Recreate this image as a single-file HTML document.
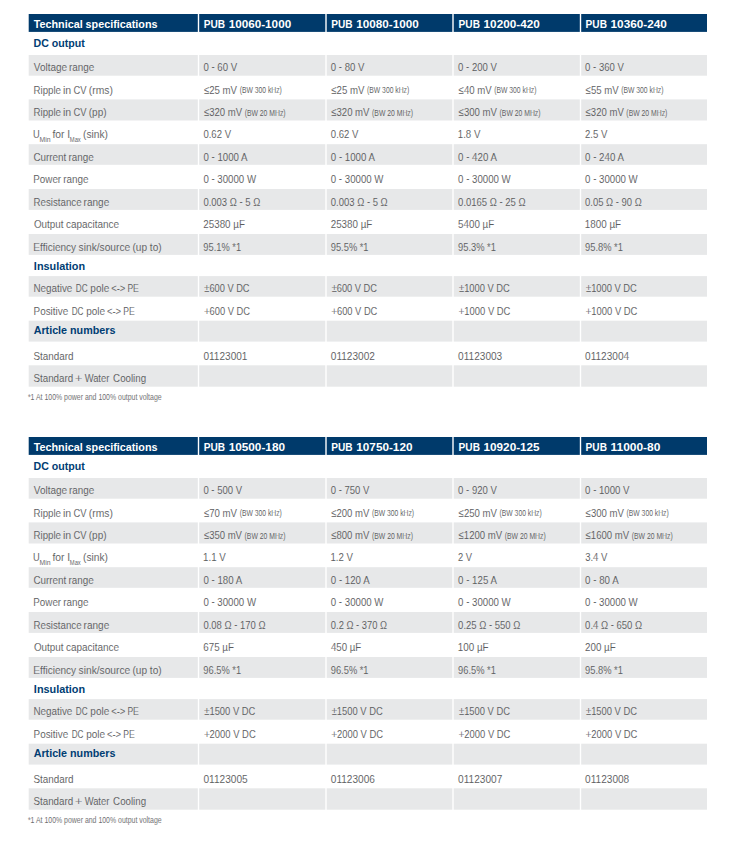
<!DOCTYPE html>
<html><head><meta charset="utf-8"><title>Technical specifications</title>
<style>
html,body{margin:0;padding:0;background:#fff;overflow:hidden;}
svg{display:block;}
svg text{font-family:"Liberation Sans", sans-serif;}
</style></head>
<body>
<svg width="745" height="863" viewBox="0 0 745 863">
<rect x="0" y="0" width="745" height="863" fill="#fff"/>
<rect x="28.7" y="14.00" width="169.10" height="17.90" fill="#003a6b"/>
<rect x="199.2" y="14.00" width="126.10" height="17.90" fill="#003a6b"/>
<rect x="326.7" y="14.00" width="125.60" height="17.90" fill="#003a6b"/>
<rect x="453.7" y="14.00" width="126.10" height="17.90" fill="#003a6b"/>
<rect x="581.2" y="14.00" width="125.80" height="17.90" fill="#003a6b"/>
<text x="33.69" y="28.00" font-size="11.6" font-weight="bold" fill="#ffffff" textLength="123.85" lengthAdjust="spacingAndGlyphs">Technical specifications</text>
<text x="203.72" y="28.00" font-size="11.6" font-weight="bold" fill="#ffffff" textLength="21.32" lengthAdjust="spacingAndGlyphs">PUB</text>
<text x="228.67" y="28.00" font-size="11.6" font-weight="bold" fill="#ffffff" textLength="62.51" lengthAdjust="spacingAndGlyphs">10060-1000</text>
<text x="331.32" y="28.00" font-size="11.6" font-weight="bold" fill="#ffffff" textLength="21.32" lengthAdjust="spacingAndGlyphs">PUB</text>
<text x="356.27" y="28.00" font-size="11.6" font-weight="bold" fill="#ffffff" textLength="62.51" lengthAdjust="spacingAndGlyphs">10080-1000</text>
<text x="458.62" y="28.00" font-size="11.6" font-weight="bold" fill="#ffffff" textLength="21.32" lengthAdjust="spacingAndGlyphs">PUB</text>
<text x="483.57" y="28.00" font-size="11.6" font-weight="bold" fill="#ffffff" textLength="56.23" lengthAdjust="spacingAndGlyphs">10200-420</text>
<text x="585.62" y="28.00" font-size="11.6" font-weight="bold" fill="#ffffff" textLength="21.32" lengthAdjust="spacingAndGlyphs">PUB</text>
<text x="610.56" y="28.00" font-size="11.6" font-weight="bold" fill="#ffffff" textLength="56.34" lengthAdjust="spacingAndGlyphs">10360-240</text>
<text x="33.48" y="46.90" font-size="11.6" font-weight="bold" fill="#003d73" textLength="51.27" lengthAdjust="spacingAndGlyphs">DC output</text>
<rect x="28.7" y="55.00" width="169.10" height="20.70" fill="#e7e8e9"/>
<rect x="199.2" y="55.00" width="126.10" height="20.70" fill="#e7e8e9"/>
<rect x="326.7" y="55.00" width="125.60" height="20.70" fill="#e7e8e9"/>
<rect x="453.7" y="55.00" width="126.10" height="20.70" fill="#e7e8e9"/>
<rect x="581.2" y="55.00" width="125.80" height="20.70" fill="#e7e8e9"/>
<text x="33.85" y="71.00" font-size="11.6" stroke="#e7e8e9" stroke-width="0.07" fill="#5b5c5e" textLength="33.29" lengthAdjust="spacingAndGlyphs">Voltage</text>
<text x="69.03" y="71.00" font-size="11.6" stroke="#e7e8e9" stroke-width="0.07" fill="#5b5c5e" textLength="25.29" lengthAdjust="spacingAndGlyphs">range</text>
<text x="203.41" y="71.00" font-size="11.6" stroke="#e7e8e9" stroke-width="0.07" fill="#5b5c5e" textLength="33.73" lengthAdjust="spacingAndGlyphs">0 <tspan dy="-0.9">-</tspan><tspan dy="0.9"> 60 V</tspan></text>
<text x="330.82" y="71.00" font-size="11.6" stroke="#e7e8e9" stroke-width="0.07" fill="#5b5c5e" textLength="33.53" lengthAdjust="spacingAndGlyphs">0 <tspan dy="-0.9">-</tspan><tspan dy="0.9"> 80 V</tspan></text>
<text x="458.12" y="71.00" font-size="11.6" stroke="#e7e8e9" stroke-width="0.07" fill="#5b5c5e" textLength="38.81" lengthAdjust="spacingAndGlyphs">0 <tspan dy="-0.9">-</tspan><tspan dy="0.9"> 200 V</tspan></text>
<text x="585.12" y="71.00" font-size="11.6" stroke="#e7e8e9" stroke-width="0.07" fill="#5b5c5e" textLength="38.81" lengthAdjust="spacingAndGlyphs">0 <tspan dy="-0.9">-</tspan><tspan dy="0.9"> 360 V</tspan></text>
<text x="33.50" y="93.80" font-size="11.6" stroke="#ffffff" stroke-width="0.07" fill="#5b5c5e" textLength="27.51" lengthAdjust="spacingAndGlyphs">Ripple</text>
<text x="62.99" y="93.80" font-size="11.6" stroke="#ffffff" stroke-width="0.07" fill="#5b5c5e" textLength="8.21" lengthAdjust="spacingAndGlyphs">in</text>
<text x="73.53" y="93.80" font-size="11.6" stroke="#ffffff" stroke-width="0.07" fill="#5b5c5e" textLength="13.01" lengthAdjust="spacingAndGlyphs">CV</text>
<text x="88.75" y="93.80" font-size="11.6" stroke="#ffffff" stroke-width="0.07" fill="#5b5c5e" textLength="24.09" lengthAdjust="spacingAndGlyphs">(rms)</text>
<text x="203.91" y="93.80" font-size="11.6" stroke="#ffffff" stroke-width="0.07" fill="#5b5c5e" textLength="33.13" lengthAdjust="spacingAndGlyphs">≤25 mV</text>
<text x="239.68" y="93.40" font-size="8.5" stroke="#ffffff" stroke-width="0.042" fill="#5b5c5e" textLength="42.15" lengthAdjust="spacingAndGlyphs">(BW 300 kHz)</text>
<text x="331.31" y="93.80" font-size="11.6" stroke="#ffffff" stroke-width="0.07" fill="#5b5c5e" textLength="33.13" lengthAdjust="spacingAndGlyphs">≤25 mV</text>
<text x="367.08" y="93.40" font-size="8.5" stroke="#ffffff" stroke-width="0.042" fill="#5b5c5e" textLength="42.15" lengthAdjust="spacingAndGlyphs">(BW 300 kHz)</text>
<text x="458.61" y="93.80" font-size="11.6" stroke="#ffffff" stroke-width="0.07" fill="#5b5c5e" textLength="33.03" lengthAdjust="spacingAndGlyphs">≤40 mV</text>
<text x="494.28" y="93.40" font-size="8.5" stroke="#ffffff" stroke-width="0.042" fill="#5b5c5e" textLength="42.15" lengthAdjust="spacingAndGlyphs">(BW 300 kHz)</text>
<text x="585.61" y="93.80" font-size="11.6" stroke="#ffffff" stroke-width="0.07" fill="#5b5c5e" textLength="33.03" lengthAdjust="spacingAndGlyphs">≤55 mV</text>
<text x="621.28" y="93.40" font-size="8.5" stroke="#ffffff" stroke-width="0.042" fill="#5b5c5e" textLength="42.15" lengthAdjust="spacingAndGlyphs">(BW 300 kHz)</text>
<rect x="28.7" y="99.40" width="169.10" height="21.10" fill="#e7e8e9"/>
<rect x="199.2" y="99.40" width="126.10" height="21.10" fill="#e7e8e9"/>
<rect x="326.7" y="99.40" width="125.60" height="21.10" fill="#e7e8e9"/>
<rect x="453.7" y="99.40" width="126.10" height="21.10" fill="#e7e8e9"/>
<rect x="581.2" y="99.40" width="125.80" height="21.10" fill="#e7e8e9"/>
<text x="33.50" y="115.90" font-size="11.6" stroke="#e7e8e9" stroke-width="0.07" fill="#5b5c5e" textLength="27.51" lengthAdjust="spacingAndGlyphs">Ripple</text>
<text x="62.99" y="115.90" font-size="11.6" stroke="#e7e8e9" stroke-width="0.07" fill="#5b5c5e" textLength="8.21" lengthAdjust="spacingAndGlyphs">in</text>
<text x="73.53" y="115.90" font-size="11.6" stroke="#e7e8e9" stroke-width="0.07" fill="#5b5c5e" textLength="13.01" lengthAdjust="spacingAndGlyphs">CV</text>
<text x="88.78" y="115.90" font-size="11.6" stroke="#e7e8e9" stroke-width="0.07" fill="#5b5c5e" textLength="17.76" lengthAdjust="spacingAndGlyphs">(pp)</text>
<text x="203.91" y="115.90" font-size="11.6" stroke="#e7e8e9" stroke-width="0.07" fill="#5b5c5e" textLength="38.14" lengthAdjust="spacingAndGlyphs">≤320 mV</text>
<text x="244.67" y="115.50" font-size="8.5" stroke="#e7e8e9" stroke-width="0.042" fill="#5b5c5e" textLength="40.95" lengthAdjust="spacingAndGlyphs">(BW 20 MHz)</text>
<text x="331.31" y="115.90" font-size="11.6" stroke="#e7e8e9" stroke-width="0.07" fill="#5b5c5e" textLength="38.14" lengthAdjust="spacingAndGlyphs">≤320 mV</text>
<text x="372.07" y="115.50" font-size="8.5" stroke="#e7e8e9" stroke-width="0.042" fill="#5b5c5e" textLength="40.95" lengthAdjust="spacingAndGlyphs">(BW 20 MHz)</text>
<text x="458.61" y="115.90" font-size="11.6" stroke="#e7e8e9" stroke-width="0.07" fill="#5b5c5e" textLength="38.34" lengthAdjust="spacingAndGlyphs">≤300 mV</text>
<text x="499.57" y="115.50" font-size="8.5" stroke="#e7e8e9" stroke-width="0.042" fill="#5b5c5e" textLength="40.95" lengthAdjust="spacingAndGlyphs">(BW 20 MHz)</text>
<text x="585.61" y="115.90" font-size="11.6" stroke="#e7e8e9" stroke-width="0.07" fill="#5b5c5e" textLength="38.14" lengthAdjust="spacingAndGlyphs">≤320 mV</text>
<text x="626.37" y="115.50" font-size="8.5" stroke="#e7e8e9" stroke-width="0.042" fill="#5b5c5e" textLength="40.95" lengthAdjust="spacingAndGlyphs">(BW 20 MHz)</text>
<text x="33.08" y="138.00" font-size="11.6" stroke="#ffffff" stroke-width="0.07" fill="#5b5c5e" textLength="6.74" lengthAdjust="spacingAndGlyphs">U</text>
<text x="39.64" y="141.70" font-size="6.7" stroke="#ffffff" stroke-width="0.042" fill="#5b5c5e" textLength="11.02" lengthAdjust="spacingAndGlyphs">Min</text>
<text x="52.45" y="138.00" font-size="11.6" stroke="#ffffff" stroke-width="0.07" fill="#5b5c5e" textLength="17.71" lengthAdjust="spacingAndGlyphs">for I</text>
<text x="69.82" y="141.70" font-size="6.7" stroke="#ffffff" stroke-width="0.042" fill="#5b5c5e" textLength="10.95" lengthAdjust="spacingAndGlyphs">Max</text>
<text x="83.06" y="138.00" font-size="11.6" stroke="#ffffff" stroke-width="0.07" fill="#5b5c5e" textLength="24.87" lengthAdjust="spacingAndGlyphs">(sink)</text>
<text x="203.42" y="138.00" font-size="11.6" stroke="#ffffff" stroke-width="0.07" fill="#5b5c5e" textLength="27.62" lengthAdjust="spacingAndGlyphs">0.62 V</text>
<text x="330.82" y="138.00" font-size="11.6" stroke="#ffffff" stroke-width="0.07" fill="#5b5c5e" textLength="27.62" lengthAdjust="spacingAndGlyphs">0.62 V</text>
<text x="457.77" y="138.00" font-size="11.6" stroke="#ffffff" stroke-width="0.07" fill="#5b5c5e" textLength="22.57" lengthAdjust="spacingAndGlyphs">1.8 V</text>
<text x="585.02" y="138.00" font-size="11.6" stroke="#ffffff" stroke-width="0.07" fill="#5b5c5e" textLength="22.33" lengthAdjust="spacingAndGlyphs">2.5 V</text>
<rect x="28.7" y="144.20" width="169.10" height="20.60" fill="#e7e8e9"/>
<rect x="199.2" y="144.20" width="126.10" height="20.60" fill="#e7e8e9"/>
<rect x="326.7" y="144.20" width="125.60" height="20.60" fill="#e7e8e9"/>
<rect x="453.7" y="144.20" width="126.10" height="20.60" fill="#e7e8e9"/>
<rect x="581.2" y="144.20" width="125.80" height="20.60" fill="#e7e8e9"/>
<text x="33.41" y="160.70" font-size="11.6" stroke="#e7e8e9" stroke-width="0.07" fill="#5b5c5e" textLength="32.86" lengthAdjust="spacingAndGlyphs">Current</text>
<text x="68.44" y="160.70" font-size="11.6" stroke="#e7e8e9" stroke-width="0.07" fill="#5b5c5e" textLength="25.19" lengthAdjust="spacingAndGlyphs">range</text>
<text x="203.41" y="160.70" font-size="11.6" stroke="#e7e8e9" stroke-width="0.07" fill="#5b5c5e" textLength="44.10" lengthAdjust="spacingAndGlyphs">0 <tspan dy="-0.9">-</tspan><tspan dy="0.9"> 1000 A</tspan></text>
<text x="330.81" y="160.70" font-size="11.6" stroke="#e7e8e9" stroke-width="0.07" fill="#5b5c5e" textLength="44.10" lengthAdjust="spacingAndGlyphs">0 <tspan dy="-0.9">-</tspan><tspan dy="0.9"> 1000 A</tspan></text>
<text x="458.11" y="160.70" font-size="11.6" stroke="#e7e8e9" stroke-width="0.07" fill="#5b5c5e" textLength="38.82" lengthAdjust="spacingAndGlyphs">0 <tspan dy="-0.9">-</tspan><tspan dy="0.9"> 420 A</tspan></text>
<text x="585.11" y="160.70" font-size="11.6" stroke="#e7e8e9" stroke-width="0.07" fill="#5b5c5e" textLength="38.82" lengthAdjust="spacingAndGlyphs">0 <tspan dy="-0.9">-</tspan><tspan dy="0.9"> 240 A</tspan></text>
<text x="33.29" y="183.00" font-size="11.6" stroke="#ffffff" stroke-width="0.07" fill="#5b5c5e" textLength="27.85" lengthAdjust="spacingAndGlyphs">Power</text>
<text x="63.33" y="183.00" font-size="11.6" stroke="#ffffff" stroke-width="0.07" fill="#5b5c5e" textLength="25.29" lengthAdjust="spacingAndGlyphs">range</text>
<text x="203.41" y="183.00" font-size="11.6" stroke="#ffffff" stroke-width="0.07" fill="#5b5c5e" textLength="52.63" lengthAdjust="spacingAndGlyphs">0 <tspan dy="-0.9">-</tspan><tspan dy="0.9"> 30000 W</tspan></text>
<text x="330.81" y="183.00" font-size="11.6" stroke="#ffffff" stroke-width="0.07" fill="#5b5c5e" textLength="52.63" lengthAdjust="spacingAndGlyphs">0 <tspan dy="-0.9">-</tspan><tspan dy="0.9"> 30000 W</tspan></text>
<text x="458.11" y="183.00" font-size="11.6" stroke="#ffffff" stroke-width="0.07" fill="#5b5c5e" textLength="52.63" lengthAdjust="spacingAndGlyphs">0 <tspan dy="-0.9">-</tspan><tspan dy="0.9"> 30000 W</tspan></text>
<text x="585.11" y="183.00" font-size="11.6" stroke="#ffffff" stroke-width="0.07" fill="#5b5c5e" textLength="52.63" lengthAdjust="spacingAndGlyphs">0 <tspan dy="-0.9">-</tspan><tspan dy="0.9"> 30000 W</tspan></text>
<rect x="28.7" y="189.00" width="169.10" height="20.90" fill="#e7e8e9"/>
<rect x="199.2" y="189.00" width="126.10" height="20.90" fill="#e7e8e9"/>
<rect x="326.7" y="189.00" width="125.60" height="20.90" fill="#e7e8e9"/>
<rect x="453.7" y="189.00" width="126.10" height="20.90" fill="#e7e8e9"/>
<rect x="581.2" y="189.00" width="125.80" height="20.90" fill="#e7e8e9"/>
<text x="33.60" y="205.90" font-size="11.6" stroke="#e7e8e9" stroke-width="0.07" fill="#5b5c5e" textLength="47.93" lengthAdjust="spacingAndGlyphs">Resistance</text>
<text x="83.62" y="205.90" font-size="11.6" stroke="#e7e8e9" stroke-width="0.07" fill="#5b5c5e" textLength="25.60" lengthAdjust="spacingAndGlyphs">range</text>
<text x="203.42" y="205.90" font-size="11.6" stroke="#e7e8e9" stroke-width="0.07" fill="#5b5c5e" textLength="56.89" lengthAdjust="spacingAndGlyphs">0.003 Ω <tspan dy="-0.9">-</tspan><tspan dy="0.9"> 5 Ω</tspan></text>
<text x="330.82" y="205.90" font-size="11.6" stroke="#e7e8e9" stroke-width="0.07" fill="#5b5c5e" textLength="56.89" lengthAdjust="spacingAndGlyphs">0.003 Ω <tspan dy="-0.9">-</tspan><tspan dy="0.9"> 5 Ω</tspan></text>
<text x="458.12" y="205.90" font-size="11.6" stroke="#e7e8e9" stroke-width="0.07" fill="#5b5c5e" textLength="67.49" lengthAdjust="spacingAndGlyphs">0.0165 Ω <tspan dy="-0.9">-</tspan><tspan dy="0.9"> 25 Ω</tspan></text>
<text x="585.12" y="205.90" font-size="11.6" stroke="#e7e8e9" stroke-width="0.07" fill="#5b5c5e" textLength="56.59" lengthAdjust="spacingAndGlyphs">0.05 Ω <tspan dy="-0.9">-</tspan><tspan dy="0.9"> 90 Ω</tspan></text>
<text x="33.93" y="228.10" font-size="11.6" stroke="#ffffff" stroke-width="0.07" fill="#5b5c5e" textLength="29.54" lengthAdjust="spacingAndGlyphs">Output</text>
<text x="65.98" y="228.10" font-size="11.6" stroke="#ffffff" stroke-width="0.07" fill="#5b5c5e" textLength="53.17" lengthAdjust="spacingAndGlyphs">capacitance</text>
<text x="203.31" y="228.10" font-size="11.6" stroke="#ffffff" stroke-width="0.07" fill="#5b5c5e" textLength="41.59" lengthAdjust="spacingAndGlyphs">25380 µF</text>
<text x="330.71" y="228.10" font-size="11.6" stroke="#ffffff" stroke-width="0.07" fill="#5b5c5e" textLength="41.59" lengthAdjust="spacingAndGlyphs">25380 µF</text>
<text x="458.11" y="228.10" font-size="11.6" stroke="#ffffff" stroke-width="0.07" fill="#5b5c5e" textLength="36.00" lengthAdjust="spacingAndGlyphs">5400 µF</text>
<text x="584.76" y="228.10" font-size="11.6" stroke="#ffffff" stroke-width="0.07" fill="#5b5c5e" textLength="36.35" lengthAdjust="spacingAndGlyphs">1800 µF</text>
<rect x="28.7" y="234.00" width="169.10" height="20.90" fill="#e7e8e9"/>
<rect x="199.2" y="234.00" width="126.10" height="20.90" fill="#e7e8e9"/>
<rect x="326.7" y="234.00" width="125.60" height="20.90" fill="#e7e8e9"/>
<rect x="453.7" y="234.00" width="126.10" height="20.90" fill="#e7e8e9"/>
<rect x="581.2" y="234.00" width="125.80" height="20.90" fill="#e7e8e9"/>
<text x="33.37" y="250.90" font-size="11.6" stroke="#e7e8e9" stroke-width="0.07" fill="#5b5c5e" textLength="42.74" lengthAdjust="spacingAndGlyphs">Efficiency</text>
<text x="78.62" y="250.90" font-size="11.6" stroke="#e7e8e9" stroke-width="0.07" fill="#5b5c5e" textLength="51.62" lengthAdjust="spacingAndGlyphs">sink/source</text>
<text x="132.47" y="250.90" font-size="11.6" stroke="#e7e8e9" stroke-width="0.07" fill="#5b5c5e" textLength="29.16" lengthAdjust="spacingAndGlyphs">(up to)</text>
<text x="203.36" y="250.90" font-size="11.6" stroke="#e7e8e9" stroke-width="0.07" fill="#5b5c5e" textLength="37.69" lengthAdjust="spacingAndGlyphs">95.1% *1</text>
<text x="330.76" y="250.90" font-size="11.6" stroke="#e7e8e9" stroke-width="0.07" fill="#5b5c5e" textLength="37.80" lengthAdjust="spacingAndGlyphs">95.5% *1</text>
<text x="458.06" y="250.90" font-size="11.6" stroke="#e7e8e9" stroke-width="0.07" fill="#5b5c5e" textLength="37.90" lengthAdjust="spacingAndGlyphs">95.3% *1</text>
<text x="585.06" y="250.90" font-size="11.6" stroke="#e7e8e9" stroke-width="0.07" fill="#5b5c5e" textLength="37.90" lengthAdjust="spacingAndGlyphs">95.8% *1</text>
<text x="33.87" y="270.00" font-size="11.6" font-weight="bold" fill="#003d73" textLength="51.28" lengthAdjust="spacingAndGlyphs">Insulation</text>
<rect x="28.7" y="276.10" width="169.10" height="20.60" fill="#e7e8e9"/>
<rect x="199.2" y="276.10" width="126.10" height="20.60" fill="#e7e8e9"/>
<rect x="326.7" y="276.10" width="125.60" height="20.60" fill="#e7e8e9"/>
<rect x="453.7" y="276.10" width="126.10" height="20.60" fill="#e7e8e9"/>
<rect x="581.2" y="276.10" width="125.80" height="20.60" fill="#e7e8e9"/>
<text x="33.39" y="291.90" font-size="11.6" stroke="#e7e8e9" stroke-width="0.07" fill="#5b5c5e" textLength="38.95" lengthAdjust="spacingAndGlyphs">Negative</text>
<text x="75.83" y="291.90" font-size="11.6" stroke="#e7e8e9" stroke-width="0.07" fill="#5b5c5e" textLength="11.80" lengthAdjust="spacingAndGlyphs">DC</text>
<text x="90.35" y="291.90" font-size="11.6" stroke="#e7e8e9" stroke-width="0.07" fill="#5b5c5e" textLength="18.88" lengthAdjust="spacingAndGlyphs">pole</text>
<text x="111.13" y="291.90" font-size="11.6" stroke="#e7e8e9" stroke-width="0.07" fill="#5b5c5e" textLength="14.23" lengthAdjust="spacingAndGlyphs">&lt;-&gt;</text>
<text x="127.39" y="291.90" font-size="11.6" stroke="#e7e8e9" stroke-width="0.07" fill="#5b5c5e" textLength="11.47" lengthAdjust="spacingAndGlyphs">PE</text>
<text x="204.30" y="291.90" font-size="11.6" stroke="#e7e8e9" stroke-width="0.07" fill="#5b5c5e" textLength="45.27" lengthAdjust="spacingAndGlyphs">±600 V DC</text>
<text x="331.70" y="291.90" font-size="11.6" stroke="#e7e8e9" stroke-width="0.07" fill="#5b5c5e" textLength="45.27" lengthAdjust="spacingAndGlyphs">±600 V DC</text>
<text x="459.00" y="291.90" font-size="11.6" stroke="#e7e8e9" stroke-width="0.07" fill="#5b5c5e" textLength="50.88" lengthAdjust="spacingAndGlyphs">±1000 V DC</text>
<text x="586.00" y="291.90" font-size="11.6" stroke="#e7e8e9" stroke-width="0.07" fill="#5b5c5e" textLength="50.88" lengthAdjust="spacingAndGlyphs">±1000 V DC</text>
<text x="33.58" y="314.70" font-size="11.6" stroke="#ffffff" stroke-width="0.07" fill="#5b5c5e" textLength="34.65" lengthAdjust="spacingAndGlyphs">Positive</text>
<text x="71.63" y="314.70" font-size="11.6" stroke="#ffffff" stroke-width="0.07" fill="#5b5c5e" textLength="11.80" lengthAdjust="spacingAndGlyphs">DC</text>
<text x="86.15" y="314.70" font-size="11.6" stroke="#ffffff" stroke-width="0.07" fill="#5b5c5e" textLength="18.88" lengthAdjust="spacingAndGlyphs">pole</text>
<text x="106.93" y="314.70" font-size="11.6" stroke="#ffffff" stroke-width="0.07" fill="#5b5c5e" textLength="14.23" lengthAdjust="spacingAndGlyphs">&lt;-&gt;</text>
<text x="123.19" y="314.70" font-size="11.6" stroke="#ffffff" stroke-width="0.07" fill="#5b5c5e" textLength="11.47" lengthAdjust="spacingAndGlyphs">PE</text>
<text x="204.13" y="314.70" font-size="11.6" stroke="#ffffff" stroke-width="0.07" fill="#5b5c5e" textLength="45.83" lengthAdjust="spacingAndGlyphs">+600 V DC</text>
<text x="331.53" y="314.70" font-size="11.6" stroke="#ffffff" stroke-width="0.07" fill="#5b5c5e" textLength="45.83" lengthAdjust="spacingAndGlyphs">+600 V DC</text>
<text x="458.83" y="314.70" font-size="11.6" stroke="#ffffff" stroke-width="0.07" fill="#5b5c5e" textLength="51.55" lengthAdjust="spacingAndGlyphs">+1000 V DC</text>
<text x="585.83" y="314.70" font-size="11.6" stroke="#ffffff" stroke-width="0.07" fill="#5b5c5e" textLength="51.55" lengthAdjust="spacingAndGlyphs">+1000 V DC</text>
<rect x="28.7" y="320.70" width="169.10" height="20.90" fill="#e7e8e9"/>
<rect x="199.2" y="320.70" width="126.10" height="20.90" fill="#e7e8e9"/>
<rect x="326.7" y="320.70" width="125.60" height="20.90" fill="#e7e8e9"/>
<rect x="453.7" y="320.70" width="126.10" height="20.90" fill="#e7e8e9"/>
<rect x="581.2" y="320.70" width="125.80" height="20.90" fill="#e7e8e9"/>
<text x="33.63" y="333.90" font-size="11.6" font-weight="bold" fill="#003d73" textLength="81.81" lengthAdjust="spacingAndGlyphs">Article numbers</text>
<text x="33.46" y="359.90" font-size="11.6" stroke="#ffffff" stroke-width="0.07" fill="#5b5c5e" textLength="40.07" lengthAdjust="spacingAndGlyphs">Standard</text>
<text x="203.40" y="359.90" font-size="11.6" stroke="#ffffff" stroke-width="0.07" fill="#5b5c5e" textLength="44.08" lengthAdjust="spacingAndGlyphs">01123001</text>
<text x="330.80" y="359.90" font-size="11.6" stroke="#ffffff" stroke-width="0.07" fill="#5b5c5e" textLength="44.11" lengthAdjust="spacingAndGlyphs">01123002</text>
<text x="458.10" y="359.90" font-size="11.6" stroke="#ffffff" stroke-width="0.07" fill="#5b5c5e" textLength="44.13" lengthAdjust="spacingAndGlyphs">01123003</text>
<text x="585.10" y="359.90" font-size="11.6" stroke="#ffffff" stroke-width="0.07" fill="#5b5c5e" textLength="43.98" lengthAdjust="spacingAndGlyphs">01123004</text>
<rect x="28.7" y="365.30" width="169.10" height="21.40" fill="#e7e8e9"/>
<rect x="199.2" y="365.30" width="126.10" height="21.40" fill="#e7e8e9"/>
<rect x="326.7" y="365.30" width="125.60" height="21.40" fill="#e7e8e9"/>
<rect x="453.7" y="365.30" width="126.10" height="21.40" fill="#e7e8e9"/>
<rect x="581.2" y="365.30" width="125.80" height="21.40" fill="#e7e8e9"/>
<text x="33.46" y="382.00" font-size="11.6" stroke="#e7e8e9" stroke-width="0.07" fill="#5b5c5e" textLength="39.77" lengthAdjust="spacingAndGlyphs">Standard</text>
<text x="75.32" y="382.00" font-size="11.6" stroke="#e7e8e9" stroke-width="0.07" fill="#5b5c5e" textLength="6.74" lengthAdjust="spacingAndGlyphs">+</text>
<text x="84.65" y="382.00" font-size="11.6" stroke="#e7e8e9" stroke-width="0.07" fill="#5b5c5e" textLength="24.69" lengthAdjust="spacingAndGlyphs">Water</text>
<text x="113.11" y="382.00" font-size="11.6" stroke="#e7e8e9" stroke-width="0.07" fill="#5b5c5e" textLength="33.01" lengthAdjust="spacingAndGlyphs">Cooling</text>
<text x="27.88" y="400.00" font-size="8.6" stroke="#ffffff" stroke-width="0.042" fill="#6a6b6d" textLength="133.72" lengthAdjust="spacingAndGlyphs">*1 At 100% power and 100% output voltage</text>
<rect x="28.7" y="437.00" width="169.10" height="17.90" fill="#003a6b"/>
<rect x="199.2" y="437.00" width="126.10" height="17.90" fill="#003a6b"/>
<rect x="326.7" y="437.00" width="125.60" height="17.90" fill="#003a6b"/>
<rect x="453.7" y="437.00" width="126.10" height="17.90" fill="#003a6b"/>
<rect x="581.2" y="437.00" width="125.80" height="17.90" fill="#003a6b"/>
<text x="33.69" y="451.00" font-size="11.6" font-weight="bold" fill="#ffffff" textLength="123.85" lengthAdjust="spacingAndGlyphs">Technical specifications</text>
<text x="203.72" y="451.00" font-size="11.6" font-weight="bold" fill="#ffffff" textLength="21.32" lengthAdjust="spacingAndGlyphs">PUB</text>
<text x="228.66" y="451.00" font-size="11.6" font-weight="bold" fill="#ffffff" textLength="56.34" lengthAdjust="spacingAndGlyphs">10500-180</text>
<text x="331.32" y="451.00" font-size="11.6" font-weight="bold" fill="#ffffff" textLength="21.32" lengthAdjust="spacingAndGlyphs">PUB</text>
<text x="356.27" y="451.00" font-size="11.6" font-weight="bold" fill="#ffffff" textLength="56.23" lengthAdjust="spacingAndGlyphs">10750-120</text>
<text x="458.62" y="451.00" font-size="11.6" font-weight="bold" fill="#ffffff" textLength="21.32" lengthAdjust="spacingAndGlyphs">PUB</text>
<text x="483.57" y="451.00" font-size="11.6" font-weight="bold" fill="#ffffff" textLength="56.08" lengthAdjust="spacingAndGlyphs">10920-125</text>
<text x="585.62" y="451.00" font-size="11.6" font-weight="bold" fill="#ffffff" textLength="21.32" lengthAdjust="spacingAndGlyphs">PUB</text>
<text x="610.55" y="451.00" font-size="11.6" font-weight="bold" fill="#ffffff" textLength="49.84" lengthAdjust="spacingAndGlyphs">11000-80</text>
<text x="33.48" y="469.90" font-size="11.6" font-weight="bold" fill="#003d73" textLength="51.27" lengthAdjust="spacingAndGlyphs">DC output</text>
<rect x="28.7" y="478.00" width="169.10" height="20.70" fill="#e7e8e9"/>
<rect x="199.2" y="478.00" width="126.10" height="20.70" fill="#e7e8e9"/>
<rect x="326.7" y="478.00" width="125.60" height="20.70" fill="#e7e8e9"/>
<rect x="453.7" y="478.00" width="126.10" height="20.70" fill="#e7e8e9"/>
<rect x="581.2" y="478.00" width="125.80" height="20.70" fill="#e7e8e9"/>
<text x="33.85" y="494.00" font-size="11.6" stroke="#e7e8e9" stroke-width="0.07" fill="#5b5c5e" textLength="33.29" lengthAdjust="spacingAndGlyphs">Voltage</text>
<text x="69.03" y="494.00" font-size="11.6" stroke="#e7e8e9" stroke-width="0.07" fill="#5b5c5e" textLength="25.29" lengthAdjust="spacingAndGlyphs">range</text>
<text x="203.42" y="494.00" font-size="11.6" stroke="#e7e8e9" stroke-width="0.07" fill="#5b5c5e" textLength="38.61" lengthAdjust="spacingAndGlyphs">0 <tspan dy="-0.9">-</tspan><tspan dy="0.9"> 500 V</tspan></text>
<text x="330.82" y="494.00" font-size="11.6" stroke="#e7e8e9" stroke-width="0.07" fill="#5b5c5e" textLength="38.51" lengthAdjust="spacingAndGlyphs">0 <tspan dy="-0.9">-</tspan><tspan dy="0.9"> 750 V</tspan></text>
<text x="458.12" y="494.00" font-size="11.6" stroke="#e7e8e9" stroke-width="0.07" fill="#5b5c5e" textLength="38.81" lengthAdjust="spacingAndGlyphs">0 <tspan dy="-0.9">-</tspan><tspan dy="0.9"> 920 V</tspan></text>
<text x="585.11" y="494.00" font-size="11.6" stroke="#e7e8e9" stroke-width="0.07" fill="#5b5c5e" textLength="44.43" lengthAdjust="spacingAndGlyphs">0 <tspan dy="-0.9">-</tspan><tspan dy="0.9"> 1000 V</tspan></text>
<text x="33.50" y="516.80" font-size="11.6" stroke="#ffffff" stroke-width="0.07" fill="#5b5c5e" textLength="27.51" lengthAdjust="spacingAndGlyphs">Ripple</text>
<text x="62.99" y="516.80" font-size="11.6" stroke="#ffffff" stroke-width="0.07" fill="#5b5c5e" textLength="8.21" lengthAdjust="spacingAndGlyphs">in</text>
<text x="73.53" y="516.80" font-size="11.6" stroke="#ffffff" stroke-width="0.07" fill="#5b5c5e" textLength="13.01" lengthAdjust="spacingAndGlyphs">CV</text>
<text x="88.75" y="516.80" font-size="11.6" stroke="#ffffff" stroke-width="0.07" fill="#5b5c5e" textLength="24.09" lengthAdjust="spacingAndGlyphs">(rms)</text>
<text x="203.91" y="516.80" font-size="11.6" stroke="#ffffff" stroke-width="0.07" fill="#5b5c5e" textLength="33.13" lengthAdjust="spacingAndGlyphs">≤70 mV</text>
<text x="239.68" y="516.40" font-size="8.5" stroke="#ffffff" stroke-width="0.042" fill="#5b5c5e" textLength="42.15" lengthAdjust="spacingAndGlyphs">(BW 300 kHz)</text>
<text x="331.31" y="516.80" font-size="11.6" stroke="#ffffff" stroke-width="0.07" fill="#5b5c5e" textLength="38.04" lengthAdjust="spacingAndGlyphs">≤200 mV</text>
<text x="371.98" y="516.40" font-size="8.5" stroke="#ffffff" stroke-width="0.042" fill="#5b5c5e" textLength="42.15" lengthAdjust="spacingAndGlyphs">(BW 300 kHz)</text>
<text x="458.61" y="516.80" font-size="11.6" stroke="#ffffff" stroke-width="0.07" fill="#5b5c5e" textLength="38.34" lengthAdjust="spacingAndGlyphs">≤250 mV</text>
<text x="499.58" y="516.40" font-size="8.5" stroke="#ffffff" stroke-width="0.042" fill="#5b5c5e" textLength="42.15" lengthAdjust="spacingAndGlyphs">(BW 300 kHz)</text>
<text x="585.61" y="516.80" font-size="11.6" stroke="#ffffff" stroke-width="0.07" fill="#5b5c5e" textLength="38.34" lengthAdjust="spacingAndGlyphs">≤300 mV</text>
<text x="626.58" y="516.40" font-size="8.5" stroke="#ffffff" stroke-width="0.042" fill="#5b5c5e" textLength="42.15" lengthAdjust="spacingAndGlyphs">(BW 300 kHz)</text>
<rect x="28.7" y="522.40" width="169.10" height="21.10" fill="#e7e8e9"/>
<rect x="199.2" y="522.40" width="126.10" height="21.10" fill="#e7e8e9"/>
<rect x="326.7" y="522.40" width="125.60" height="21.10" fill="#e7e8e9"/>
<rect x="453.7" y="522.40" width="126.10" height="21.10" fill="#e7e8e9"/>
<rect x="581.2" y="522.40" width="125.80" height="21.10" fill="#e7e8e9"/>
<text x="33.50" y="538.90" font-size="11.6" stroke="#e7e8e9" stroke-width="0.07" fill="#5b5c5e" textLength="27.51" lengthAdjust="spacingAndGlyphs">Ripple</text>
<text x="62.99" y="538.90" font-size="11.6" stroke="#e7e8e9" stroke-width="0.07" fill="#5b5c5e" textLength="8.21" lengthAdjust="spacingAndGlyphs">in</text>
<text x="73.53" y="538.90" font-size="11.6" stroke="#e7e8e9" stroke-width="0.07" fill="#5b5c5e" textLength="13.01" lengthAdjust="spacingAndGlyphs">CV</text>
<text x="88.78" y="538.90" font-size="11.6" stroke="#e7e8e9" stroke-width="0.07" fill="#5b5c5e" textLength="17.76" lengthAdjust="spacingAndGlyphs">(pp)</text>
<text x="203.91" y="538.90" font-size="11.6" stroke="#e7e8e9" stroke-width="0.07" fill="#5b5c5e" textLength="38.04" lengthAdjust="spacingAndGlyphs">≤350 mV</text>
<text x="244.57" y="538.50" font-size="8.5" stroke="#e7e8e9" stroke-width="0.042" fill="#5b5c5e" textLength="40.95" lengthAdjust="spacingAndGlyphs">(BW 20 MHz)</text>
<text x="331.31" y="538.90" font-size="11.6" stroke="#e7e8e9" stroke-width="0.07" fill="#5b5c5e" textLength="38.04" lengthAdjust="spacingAndGlyphs">≤800 mV</text>
<text x="371.97" y="538.50" font-size="8.5" stroke="#e7e8e9" stroke-width="0.042" fill="#5b5c5e" textLength="40.95" lengthAdjust="spacingAndGlyphs">(BW 20 MHz)</text>
<text x="458.61" y="538.90" font-size="11.6" stroke="#e7e8e9" stroke-width="0.07" fill="#5b5c5e" textLength="43.52" lengthAdjust="spacingAndGlyphs">≤1200 mV</text>
<text x="504.77" y="538.50" font-size="8.5" stroke="#e7e8e9" stroke-width="0.042" fill="#5b5c5e" textLength="40.95" lengthAdjust="spacingAndGlyphs">(BW 20 MHz)</text>
<text x="585.61" y="538.90" font-size="11.6" stroke="#e7e8e9" stroke-width="0.07" fill="#5b5c5e" textLength="43.52" lengthAdjust="spacingAndGlyphs">≤1600 mV</text>
<text x="631.77" y="538.50" font-size="8.5" stroke="#e7e8e9" stroke-width="0.042" fill="#5b5c5e" textLength="40.95" lengthAdjust="spacingAndGlyphs">(BW 20 MHz)</text>
<text x="33.08" y="561.00" font-size="11.6" stroke="#ffffff" stroke-width="0.07" fill="#5b5c5e" textLength="6.74" lengthAdjust="spacingAndGlyphs">U</text>
<text x="39.64" y="564.70" font-size="6.7" stroke="#ffffff" stroke-width="0.042" fill="#5b5c5e" textLength="11.02" lengthAdjust="spacingAndGlyphs">Min</text>
<text x="52.45" y="561.00" font-size="11.6" stroke="#ffffff" stroke-width="0.07" fill="#5b5c5e" textLength="17.71" lengthAdjust="spacingAndGlyphs">for I</text>
<text x="69.82" y="564.70" font-size="6.7" stroke="#ffffff" stroke-width="0.042" fill="#5b5c5e" textLength="10.95" lengthAdjust="spacingAndGlyphs">Max</text>
<text x="83.06" y="561.00" font-size="11.6" stroke="#ffffff" stroke-width="0.07" fill="#5b5c5e" textLength="24.87" lengthAdjust="spacingAndGlyphs">(sink)</text>
<text x="203.07" y="561.00" font-size="11.6" stroke="#ffffff" stroke-width="0.07" fill="#5b5c5e" textLength="22.68" lengthAdjust="spacingAndGlyphs">1.1 V</text>
<text x="330.47" y="561.00" font-size="11.6" stroke="#ffffff" stroke-width="0.07" fill="#5b5c5e" textLength="22.57" lengthAdjust="spacingAndGlyphs">1.2 V</text>
<text x="458.03" y="561.00" font-size="11.6" stroke="#ffffff" stroke-width="0.07" fill="#5b5c5e" textLength="14.10" lengthAdjust="spacingAndGlyphs">2 V</text>
<text x="585.14" y="561.00" font-size="11.6" stroke="#ffffff" stroke-width="0.07" fill="#5b5c5e" textLength="22.20" lengthAdjust="spacingAndGlyphs">3.4 V</text>
<rect x="28.7" y="567.20" width="169.10" height="20.60" fill="#e7e8e9"/>
<rect x="199.2" y="567.20" width="126.10" height="20.60" fill="#e7e8e9"/>
<rect x="326.7" y="567.20" width="125.60" height="20.60" fill="#e7e8e9"/>
<rect x="453.7" y="567.20" width="126.10" height="20.60" fill="#e7e8e9"/>
<rect x="581.2" y="567.20" width="125.80" height="20.60" fill="#e7e8e9"/>
<text x="33.41" y="583.70" font-size="11.6" stroke="#e7e8e9" stroke-width="0.07" fill="#5b5c5e" textLength="32.86" lengthAdjust="spacingAndGlyphs">Current</text>
<text x="68.44" y="583.70" font-size="11.6" stroke="#e7e8e9" stroke-width="0.07" fill="#5b5c5e" textLength="25.19" lengthAdjust="spacingAndGlyphs">range</text>
<text x="203.41" y="583.70" font-size="11.6" stroke="#e7e8e9" stroke-width="0.07" fill="#5b5c5e" textLength="38.82" lengthAdjust="spacingAndGlyphs">0 <tspan dy="-0.9">-</tspan><tspan dy="0.9"> 180 A</tspan></text>
<text x="330.81" y="583.70" font-size="11.6" stroke="#e7e8e9" stroke-width="0.07" fill="#5b5c5e" textLength="38.82" lengthAdjust="spacingAndGlyphs">0 <tspan dy="-0.9">-</tspan><tspan dy="0.9"> 120 A</tspan></text>
<text x="458.11" y="583.70" font-size="11.6" stroke="#e7e8e9" stroke-width="0.07" fill="#5b5c5e" textLength="38.82" lengthAdjust="spacingAndGlyphs">0 <tspan dy="-0.9">-</tspan><tspan dy="0.9"> 125 A</tspan></text>
<text x="585.11" y="583.70" font-size="11.6" stroke="#e7e8e9" stroke-width="0.07" fill="#5b5c5e" textLength="33.51" lengthAdjust="spacingAndGlyphs">0 <tspan dy="-0.9">-</tspan><tspan dy="0.9"> 80 A</tspan></text>
<text x="33.29" y="606.00" font-size="11.6" stroke="#ffffff" stroke-width="0.07" fill="#5b5c5e" textLength="27.85" lengthAdjust="spacingAndGlyphs">Power</text>
<text x="63.33" y="606.00" font-size="11.6" stroke="#ffffff" stroke-width="0.07" fill="#5b5c5e" textLength="25.29" lengthAdjust="spacingAndGlyphs">range</text>
<text x="203.41" y="606.00" font-size="11.6" stroke="#ffffff" stroke-width="0.07" fill="#5b5c5e" textLength="52.63" lengthAdjust="spacingAndGlyphs">0 <tspan dy="-0.9">-</tspan><tspan dy="0.9"> 30000 W</tspan></text>
<text x="330.81" y="606.00" font-size="11.6" stroke="#ffffff" stroke-width="0.07" fill="#5b5c5e" textLength="52.63" lengthAdjust="spacingAndGlyphs">0 <tspan dy="-0.9">-</tspan><tspan dy="0.9"> 30000 W</tspan></text>
<text x="458.11" y="606.00" font-size="11.6" stroke="#ffffff" stroke-width="0.07" fill="#5b5c5e" textLength="52.63" lengthAdjust="spacingAndGlyphs">0 <tspan dy="-0.9">-</tspan><tspan dy="0.9"> 30000 W</tspan></text>
<text x="585.11" y="606.00" font-size="11.6" stroke="#ffffff" stroke-width="0.07" fill="#5b5c5e" textLength="52.63" lengthAdjust="spacingAndGlyphs">0 <tspan dy="-0.9">-</tspan><tspan dy="0.9"> 30000 W</tspan></text>
<rect x="28.7" y="612.00" width="169.10" height="20.90" fill="#e7e8e9"/>
<rect x="199.2" y="612.00" width="126.10" height="20.90" fill="#e7e8e9"/>
<rect x="326.7" y="612.00" width="125.60" height="20.90" fill="#e7e8e9"/>
<rect x="453.7" y="612.00" width="126.10" height="20.90" fill="#e7e8e9"/>
<rect x="581.2" y="612.00" width="125.80" height="20.90" fill="#e7e8e9"/>
<text x="33.60" y="628.90" font-size="11.6" stroke="#e7e8e9" stroke-width="0.07" fill="#5b5c5e" textLength="47.93" lengthAdjust="spacingAndGlyphs">Resistance</text>
<text x="83.62" y="628.90" font-size="11.6" stroke="#e7e8e9" stroke-width="0.07" fill="#5b5c5e" textLength="25.60" lengthAdjust="spacingAndGlyphs">range</text>
<text x="203.42" y="628.90" font-size="11.6" stroke="#e7e8e9" stroke-width="0.07" fill="#5b5c5e" textLength="62.08" lengthAdjust="spacingAndGlyphs">0.08 Ω <tspan dy="-0.9">-</tspan><tspan dy="0.9"> 170 Ω</tspan></text>
<text x="330.82" y="628.90" font-size="11.6" stroke="#e7e8e9" stroke-width="0.07" fill="#5b5c5e" textLength="56.28" lengthAdjust="spacingAndGlyphs">0.2 Ω <tspan dy="-0.9">-</tspan><tspan dy="0.9"> 370 Ω</tspan></text>
<text x="458.12" y="628.90" font-size="11.6" stroke="#e7e8e9" stroke-width="0.07" fill="#5b5c5e" textLength="62.18" lengthAdjust="spacingAndGlyphs">0.25 Ω <tspan dy="-0.9">-</tspan><tspan dy="0.9"> 550 Ω</tspan></text>
<text x="585.12" y="628.90" font-size="11.6" stroke="#e7e8e9" stroke-width="0.07" fill="#5b5c5e" textLength="56.99" lengthAdjust="spacingAndGlyphs">0.4 Ω <tspan dy="-0.9">-</tspan><tspan dy="0.9"> 650 Ω</tspan></text>
<text x="33.93" y="651.10" font-size="11.6" stroke="#ffffff" stroke-width="0.07" fill="#5b5c5e" textLength="29.54" lengthAdjust="spacingAndGlyphs">Output</text>
<text x="65.98" y="651.10" font-size="11.6" stroke="#ffffff" stroke-width="0.07" fill="#5b5c5e" textLength="53.17" lengthAdjust="spacingAndGlyphs">capacitance</text>
<text x="203.31" y="651.10" font-size="11.6" stroke="#ffffff" stroke-width="0.07" fill="#5b5c5e" textLength="30.59" lengthAdjust="spacingAndGlyphs">675 µF</text>
<text x="330.98" y="651.10" font-size="11.6" stroke="#ffffff" stroke-width="0.07" fill="#5b5c5e" textLength="30.31" lengthAdjust="spacingAndGlyphs">450 µF</text>
<text x="457.76" y="651.10" font-size="11.6" stroke="#ffffff" stroke-width="0.07" fill="#5b5c5e" textLength="30.84" lengthAdjust="spacingAndGlyphs">100 µF</text>
<text x="585.01" y="651.10" font-size="11.6" stroke="#ffffff" stroke-width="0.07" fill="#5b5c5e" textLength="30.69" lengthAdjust="spacingAndGlyphs">200 µF</text>
<rect x="28.7" y="657.00" width="169.10" height="20.90" fill="#e7e8e9"/>
<rect x="199.2" y="657.00" width="126.10" height="20.90" fill="#e7e8e9"/>
<rect x="326.7" y="657.00" width="125.60" height="20.90" fill="#e7e8e9"/>
<rect x="453.7" y="657.00" width="126.10" height="20.90" fill="#e7e8e9"/>
<rect x="581.2" y="657.00" width="125.80" height="20.90" fill="#e7e8e9"/>
<text x="33.37" y="673.90" font-size="11.6" stroke="#e7e8e9" stroke-width="0.07" fill="#5b5c5e" textLength="42.74" lengthAdjust="spacingAndGlyphs">Efficiency</text>
<text x="78.62" y="673.90" font-size="11.6" stroke="#e7e8e9" stroke-width="0.07" fill="#5b5c5e" textLength="51.62" lengthAdjust="spacingAndGlyphs">sink/source</text>
<text x="132.47" y="673.90" font-size="11.6" stroke="#e7e8e9" stroke-width="0.07" fill="#5b5c5e" textLength="29.16" lengthAdjust="spacingAndGlyphs">(up to)</text>
<text x="203.36" y="673.90" font-size="11.6" stroke="#e7e8e9" stroke-width="0.07" fill="#5b5c5e" textLength="37.80" lengthAdjust="spacingAndGlyphs">96.5% *1</text>
<text x="330.76" y="673.90" font-size="11.6" stroke="#e7e8e9" stroke-width="0.07" fill="#5b5c5e" textLength="37.80" lengthAdjust="spacingAndGlyphs">96.5% *1</text>
<text x="458.06" y="673.90" font-size="11.6" stroke="#e7e8e9" stroke-width="0.07" fill="#5b5c5e" textLength="37.80" lengthAdjust="spacingAndGlyphs">96.5% *1</text>
<text x="585.06" y="673.90" font-size="11.6" stroke="#e7e8e9" stroke-width="0.07" fill="#5b5c5e" textLength="37.90" lengthAdjust="spacingAndGlyphs">95.8% *1</text>
<text x="33.87" y="693.00" font-size="11.6" font-weight="bold" fill="#003d73" textLength="51.28" lengthAdjust="spacingAndGlyphs">Insulation</text>
<rect x="28.7" y="699.10" width="169.10" height="20.60" fill="#e7e8e9"/>
<rect x="199.2" y="699.10" width="126.10" height="20.60" fill="#e7e8e9"/>
<rect x="326.7" y="699.10" width="125.60" height="20.60" fill="#e7e8e9"/>
<rect x="453.7" y="699.10" width="126.10" height="20.60" fill="#e7e8e9"/>
<rect x="581.2" y="699.10" width="125.80" height="20.60" fill="#e7e8e9"/>
<text x="33.39" y="714.90" font-size="11.6" stroke="#e7e8e9" stroke-width="0.07" fill="#5b5c5e" textLength="38.95" lengthAdjust="spacingAndGlyphs">Negative</text>
<text x="75.83" y="714.90" font-size="11.6" stroke="#e7e8e9" stroke-width="0.07" fill="#5b5c5e" textLength="11.80" lengthAdjust="spacingAndGlyphs">DC</text>
<text x="90.35" y="714.90" font-size="11.6" stroke="#e7e8e9" stroke-width="0.07" fill="#5b5c5e" textLength="18.88" lengthAdjust="spacingAndGlyphs">pole</text>
<text x="111.13" y="714.90" font-size="11.6" stroke="#e7e8e9" stroke-width="0.07" fill="#5b5c5e" textLength="14.23" lengthAdjust="spacingAndGlyphs">&lt;-&gt;</text>
<text x="127.39" y="714.90" font-size="11.6" stroke="#e7e8e9" stroke-width="0.07" fill="#5b5c5e" textLength="11.47" lengthAdjust="spacingAndGlyphs">PE</text>
<text x="204.30" y="714.90" font-size="11.6" stroke="#e7e8e9" stroke-width="0.07" fill="#5b5c5e" textLength="50.98" lengthAdjust="spacingAndGlyphs">±1500 V DC</text>
<text x="331.70" y="714.90" font-size="11.6" stroke="#e7e8e9" stroke-width="0.07" fill="#5b5c5e" textLength="50.98" lengthAdjust="spacingAndGlyphs">±1500 V DC</text>
<text x="459.00" y="714.90" font-size="11.6" stroke="#e7e8e9" stroke-width="0.07" fill="#5b5c5e" textLength="50.98" lengthAdjust="spacingAndGlyphs">±1500 V DC</text>
<text x="586.00" y="714.90" font-size="11.6" stroke="#e7e8e9" stroke-width="0.07" fill="#5b5c5e" textLength="50.98" lengthAdjust="spacingAndGlyphs">±1500 V DC</text>
<text x="33.58" y="737.70" font-size="11.6" stroke="#ffffff" stroke-width="0.07" fill="#5b5c5e" textLength="34.65" lengthAdjust="spacingAndGlyphs">Positive</text>
<text x="71.63" y="737.70" font-size="11.6" stroke="#ffffff" stroke-width="0.07" fill="#5b5c5e" textLength="11.80" lengthAdjust="spacingAndGlyphs">DC</text>
<text x="86.15" y="737.70" font-size="11.6" stroke="#ffffff" stroke-width="0.07" fill="#5b5c5e" textLength="18.88" lengthAdjust="spacingAndGlyphs">pole</text>
<text x="106.93" y="737.70" font-size="11.6" stroke="#ffffff" stroke-width="0.07" fill="#5b5c5e" textLength="14.23" lengthAdjust="spacingAndGlyphs">&lt;-&gt;</text>
<text x="123.19" y="737.70" font-size="11.6" stroke="#ffffff" stroke-width="0.07" fill="#5b5c5e" textLength="11.47" lengthAdjust="spacingAndGlyphs">PE</text>
<text x="204.13" y="737.70" font-size="11.6" stroke="#ffffff" stroke-width="0.07" fill="#5b5c5e" textLength="51.55" lengthAdjust="spacingAndGlyphs">+2000 V DC</text>
<text x="331.53" y="737.70" font-size="11.6" stroke="#ffffff" stroke-width="0.07" fill="#5b5c5e" textLength="51.55" lengthAdjust="spacingAndGlyphs">+2000 V DC</text>
<text x="458.83" y="737.70" font-size="11.6" stroke="#ffffff" stroke-width="0.07" fill="#5b5c5e" textLength="51.55" lengthAdjust="spacingAndGlyphs">+2000 V DC</text>
<text x="585.83" y="737.70" font-size="11.6" stroke="#ffffff" stroke-width="0.07" fill="#5b5c5e" textLength="51.55" lengthAdjust="spacingAndGlyphs">+2000 V DC</text>
<rect x="28.7" y="743.70" width="169.10" height="20.90" fill="#e7e8e9"/>
<rect x="199.2" y="743.70" width="126.10" height="20.90" fill="#e7e8e9"/>
<rect x="326.7" y="743.70" width="125.60" height="20.90" fill="#e7e8e9"/>
<rect x="453.7" y="743.70" width="126.10" height="20.90" fill="#e7e8e9"/>
<rect x="581.2" y="743.70" width="125.80" height="20.90" fill="#e7e8e9"/>
<text x="33.63" y="756.90" font-size="11.6" font-weight="bold" fill="#003d73" textLength="81.81" lengthAdjust="spacingAndGlyphs">Article numbers</text>
<text x="33.46" y="782.90" font-size="11.6" stroke="#ffffff" stroke-width="0.07" fill="#5b5c5e" textLength="40.07" lengthAdjust="spacingAndGlyphs">Standard</text>
<text x="203.39" y="782.90" font-size="11.6" stroke="#ffffff" stroke-width="0.07" fill="#5b5c5e" textLength="44.31" lengthAdjust="spacingAndGlyphs">01123005</text>
<text x="330.80" y="782.90" font-size="11.6" stroke="#ffffff" stroke-width="0.07" fill="#5b5c5e" textLength="44.13" lengthAdjust="spacingAndGlyphs">01123006</text>
<text x="458.10" y="782.90" font-size="11.6" stroke="#ffffff" stroke-width="0.07" fill="#5b5c5e" textLength="44.21" lengthAdjust="spacingAndGlyphs">01123007</text>
<text x="585.10" y="782.90" font-size="11.6" stroke="#ffffff" stroke-width="0.07" fill="#5b5c5e" textLength="44.13" lengthAdjust="spacingAndGlyphs">01123008</text>
<rect x="28.7" y="788.30" width="169.10" height="21.40" fill="#e7e8e9"/>
<rect x="199.2" y="788.30" width="126.10" height="21.40" fill="#e7e8e9"/>
<rect x="326.7" y="788.30" width="125.60" height="21.40" fill="#e7e8e9"/>
<rect x="453.7" y="788.30" width="126.10" height="21.40" fill="#e7e8e9"/>
<rect x="581.2" y="788.30" width="125.80" height="21.40" fill="#e7e8e9"/>
<text x="33.46" y="805.00" font-size="11.6" stroke="#e7e8e9" stroke-width="0.07" fill="#5b5c5e" textLength="39.77" lengthAdjust="spacingAndGlyphs">Standard</text>
<text x="75.32" y="805.00" font-size="11.6" stroke="#e7e8e9" stroke-width="0.07" fill="#5b5c5e" textLength="6.74" lengthAdjust="spacingAndGlyphs">+</text>
<text x="84.65" y="805.00" font-size="11.6" stroke="#e7e8e9" stroke-width="0.07" fill="#5b5c5e" textLength="24.69" lengthAdjust="spacingAndGlyphs">Water</text>
<text x="113.11" y="805.00" font-size="11.6" stroke="#e7e8e9" stroke-width="0.07" fill="#5b5c5e" textLength="33.01" lengthAdjust="spacingAndGlyphs">Cooling</text>
<text x="27.88" y="823.00" font-size="8.6" stroke="#ffffff" stroke-width="0.042" fill="#6a6b6d" textLength="133.72" lengthAdjust="spacingAndGlyphs">*1 At 100% power and 100% output voltage</text>
</svg>
</body></html>
